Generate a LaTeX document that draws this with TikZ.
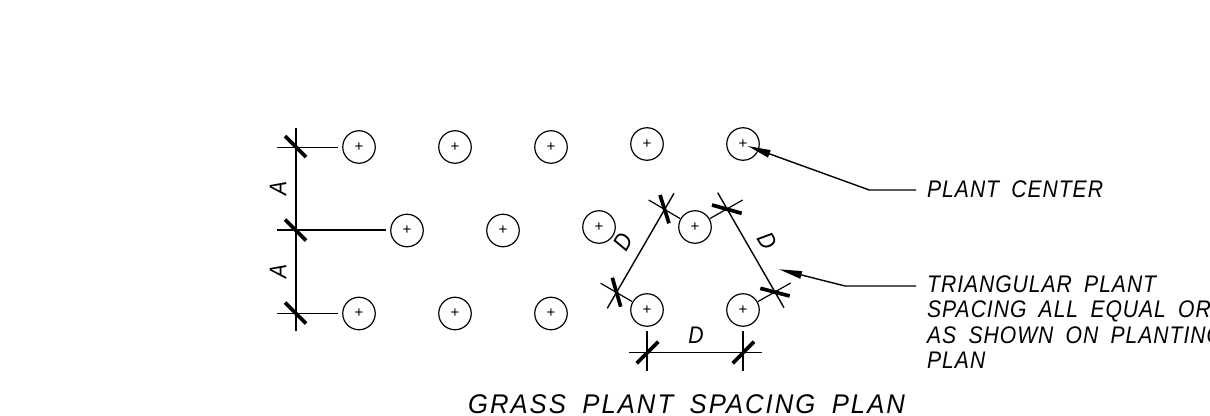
\documentclass[tikz,border=0pt]{standalone}
\usepackage{fontspec}
\setmainfont{Liberation Sans}[ItalicFeatures={FakeStretch=0.88,LetterSpace=4,WordSpace=1.8}]
\newfontfamily\titlefont{Liberation Sans}[ItalicFeatures={FakeStretch=0.95,LetterSpace=7.5,WordSpace=1.8}]
\usetikzlibrary{arrows.meta}
\tikzset{
  x=1pt,y=-1pt,
  plant/.style={circle,draw,line width=1.2pt,minimum size=32.5pt,inner sep=0pt,font=\fontsize{15}{15}\selectfont},
  thin line/.style={line width=1.2pt},
  dimline/.style={line width=1.4pt},
  tick/.style={line width=3.7pt},
  leader/.style={line width=1.4pt,-{Triangle[length=23pt,width=7.5pt]}},
  lab/.style={inner sep=0pt,font=\fontsize{24}{24}\selectfont\itshape},
  note/.style={inner sep=0pt,anchor=base west,font=\fontsize{24}{24}\selectfont\itshape},
}
\newcommand{\plantat}[3]{\node[plant] (#1) at (#2,#3) {+};}
\begin{document}
\begin{tikzpicture}
\useasboundingbox (0,0) rectangle (1210,415);
\clip (0,0) rectangle (1210,415);
\plantat{a1}{359}{147}\plantat{a2}{455}{147}\plantat{a3}{551}{147}\plantat{a4}{647}{144}\plantat{a5}{743}{144}
\plantat{b1}{407}{230.5}\plantat{b2}{503}{230.5}\plantat{b3}{599}{227}\plantat{b4}{695}{227}
\plantat{c1}{359}{313.5}\plantat{c2}{455}{313.5}\plantat{c3}{551}{313.5}\plantat{c4}{647}{310}\plantat{c5}{743}{310}
% left dimension
\draw[dimline] (296,128) -- (296,331);
\draw[thin line] (277,147.5) -- (338,147.5);
\draw[dimline] (277,230) -- (386,230);
\draw[thin line] (277,313.5) -- (338,313.5);
\foreach \y in {147,230.5,313.5}{\draw[tick] (285,\y-11) -- (306,\y+10);}
\node[lab,rotate=90] (la1) at (278,188) {A};
\node[lab,rotate=90] (la2) at (278,271) {A};
% triangular dimensions
\draw[dimline] (607.3,308.3) -- (674,193.3);
\draw[thin line] (c4) ++(-15,-8.5) -- (600.7,283.3);
\draw[thin line] (b4) ++(-15,-8.5) -- (648.7,200);
\draw[tick] (612.3,277.7) -- (620.7,306.7);
\draw[tick] (660,195) -- (669,223.3);
\draw[dimline] (717.7,192.7) -- (784,307.7);
\draw[thin line] (b4) ++(15,-8.5) -- (742.7,200);
\draw[thin line] (c5) ++(15,-8.5) -- (790.7,283);
\draw[tick] (712,205) -- (741.7,213.3);
\draw[tick] (760.3,288.3) -- (789.7,296);
\draw[dimline] (629,352.3) -- (762.3,352.3);
\draw[thin line] (647,331.3) -- (647,370.7);
\draw[thin line] (743,331.3) -- (743,370.7);
\draw[tick] (636.7,363.3) -- (658.3,341.7);
\draw[tick] (732.7,363.3) -- (754,341.7);
\node[lab] (ld1) at (696,335) {D};
\node[lab,rotate=60] (ld2) at (623,242) {D};
\node[lab,rotate=-60] (ld3) at (767,241) {D};
% leaders
\node[note] (n1) at (927,197.5) {PLANT CENTER};
\node[note] (n2) at (927,292) {TRIANGULAR PLANT};
\node[note] (n3) at (927,317.5) {SPACING ALL EQUAL OR};
\node[note] (n4) at (927,343) {AS SHOWN ON PLANTING};
\node[note] (n5) at (927,368.5) {PLAN};
\coordinate (k1) at (869.3,190);
\coordinate (k2) at (845,286);
\coordinate (t1) at (747.7,146);
\coordinate (t2) at (779,269.3);
\draw[leader] (916,190) -- (k1) -- (t1);
\draw[leader] (916,286) -- (k2) -- (t2);
\node[inner sep=0pt,anchor=base,font=\titlefont\fontsize{27}{27}\selectfont\itshape] (title) at (686.5,413) {GRASS PLANT SPACING PLAN};
\end{tikzpicture}
\end{document}
